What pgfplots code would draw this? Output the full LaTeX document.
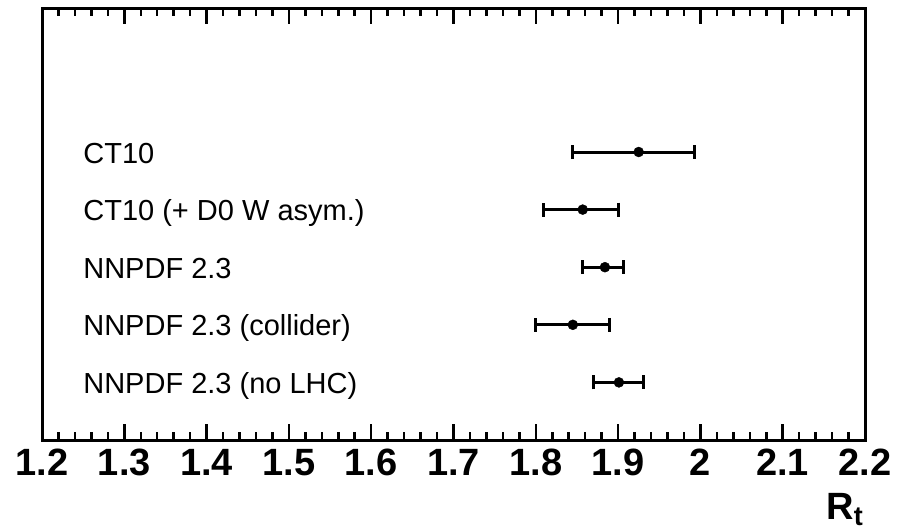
\documentclass[border=0pt]{standalone}
\usepackage{fontspec}
\setmainfont{Liberation Sans}
\usepackage{pgfplots}
\pgfplotsset{compat=1.18}
\usepackage{pgfplotstable}

% R_t for each PDF set: central value, lower and upper uncertainty
\pgfplotstableread{
x     y  em     ep
1.925 5  0.080  0.068
1.857 4  0.048  0.044
1.884 3  0.027  0.023
1.845 2  0.045  0.044
1.901 1  0.031  0.030
}\rtdata

\begin{document}
\begin{tikzpicture}
\begin{axis}[
  scale only axis,
  width=823pt, height=432pt,
  xmin=1.2, xmax=2.2,
  ymin=0, ymax=7.5,
  axis line style={line width=3pt},
  xtick={1.2,1.3,1.4,1.5,1.6,1.7,1.8,1.9,2.0,2.1,2.2},
  xticklabels={1.2,1.3,1.4,1.5,1.6,1.7,1.8,1.9,2,2.1,2.2},
  minor x tick num=4,
  ytick=\empty,
  xtick pos=both,
  tick align=inside,
  major tick length=16pt,
  minor tick length=8pt,
  every tick/.style={black, line width=2.5pt},
  /pgf/number format/assume math mode=true,
  xticklabel style={font=\bfseries\fontsize{38}{38}\selectfont,
    anchor=base, inner sep=0pt, yshift=-35pt},
  clip=false,
]
\addplot[
  only marks, mark=*, mark size=5pt, black,
  error bars/.cd,
    x dir=both, x explicit,
    error bar style={line width=3pt, black},
    error mark options={rotate=90, mark size=7pt, line width=3pt, black},
] table[x=x, y=y, x error minus=em, x error plus=ep] {\rtdata};

\begin{scope}[every node/.style={anchor=base west, inner sep=0pt,
    font=\fontsize{29}{29}\selectfont, yshift=-11pt}]
\node at (axis cs:1.25,5) {CT10};
\node at (axis cs:1.25,4) {CT10 (+ D0 W asym.)};
\node at (axis cs:1.25,3) {NNPDF 2.3};
\node at (axis cs:1.25,2) {NNPDF 2.3 (collider)};
\node at (axis cs:1.25,1) {NNPDF 2.3 (no LHC)};
\end{scope}

\node[anchor=north east, inner sep=0pt,
  font=\bfseries\fontsize{38}{38}\selectfont]
  at ([xshift=-2pt, yshift=-53pt]rel axis cs:1,0)
  {R\raisebox{-0.3ex}{\fontsize{27}{27}\selectfont t}};
\end{axis}
\pgfresetboundingbox
\path (-42pt,-91pt) rectangle (862pt,440pt);
\end{tikzpicture}
\end{document}
